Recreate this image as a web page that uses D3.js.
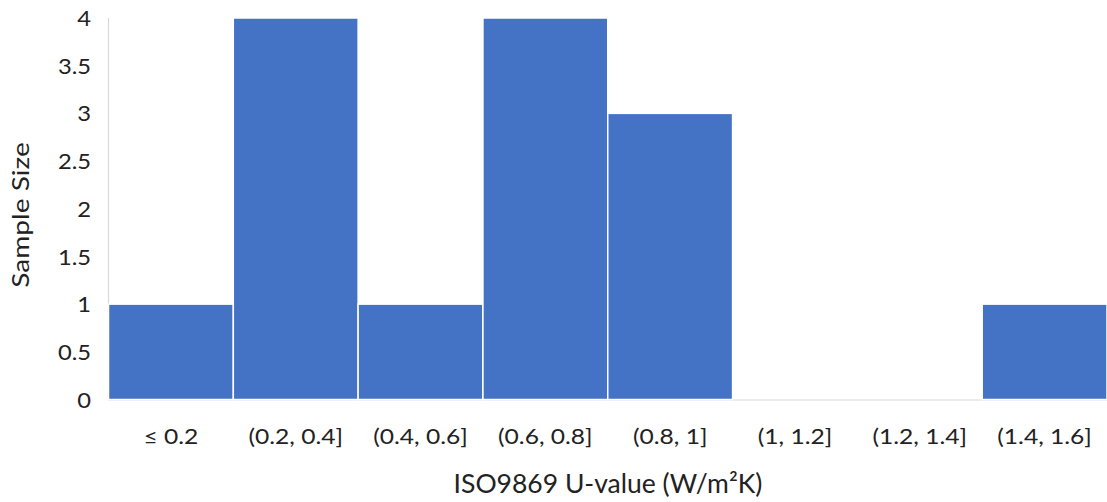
<!DOCTYPE html>
<html>
<head>
<meta charset="utf-8">
<script src="https://cdn.jsdelivr.net/npm/d3@7"></script>
<style>
  html, body { margin: 0; padding: 0; background: #fff; }
  svg { display: block; }
  text { font-family: Lato, "Open Sans", sans-serif; fill: #222; }
</style>
</head>
<body>
<svg id="chart" width="1107" height="502"></svg>
<script>
const categories = ["≤ 0.2", "(0.2, 0.4]", "(0.4, 0.6]", "(0.6, 0.8]", "(0.8, 1]", "(1, 1.2]", "(1.2, 1.4]", "(1.4, 1.6]"];
const sampleSize = [1, 4, 1, 4, 3, 0, 0, 1];
const yTicks = [0, 0.5, 1, 1.5, 2, 2.5, 3, 3.5, 4];
const xTitle = "ISO9869 U-value (W/m²K)";
const yTitle = "Sample Size";

const svg = d3.select("#chart");
const mLeft = 108.5, mRight = 1107, mTop = 18, mBottom = 399.5;

const x = d3.scaleBand().domain(categories).range([mLeft, mRight]).padding(0);
const y = d3.scaleLinear().domain([0, 4]).range([mBottom, mTop]);

// axis lines
svg.append("line").attr("x1", mLeft).attr("x2", mLeft).attr("y1", mTop).attr("y2", mBottom + 1)
  .attr("stroke", "#d9d9d9").attr("stroke-width", 1.2);
svg.append("line").attr("x1", mLeft).attr("x2", mRight).attr("y1", mBottom + 0.5).attr("y2", mBottom + 0.5)
  .attr("stroke", "#d9d9d9").attr("stroke-width", 1.2);

// bars
svg.append("g").selectAll("rect").data(categories).join("rect")
  .attr("x", d => x(d))
  .attr("y", (d, i) => y(sampleSize[i]))
  .attr("width", x.bandwidth())
  .attr("height", (d, i) => y(0) - y(sampleSize[i]))
  .attr("fill", "#4472C4")
  .attr("stroke", "#ffffff")
  .attr("stroke-width", 1.5);

// y axis labels
const yAxis = d3.axisLeft(y).tickValues(yTicks).tickSize(0).tickPadding(0).tickFormat(d3.format("~g"));
const gy = svg.append("g").attr("transform", "translate(91,0)").call(yAxis);
gy.select(".domain").remove();
gy.selectAll("text").attr("font-size", 21).attr("font-family", "Lato, sans-serif").attr("fill", "#222")
  .attr("transform", "scale(1.13,1)").attr("dy", "0.36em").attr("x", 0);

// x axis labels
const xAxis = d3.axisBottom(x).tickSize(0).tickPadding(0);
const gx = svg.append("g").attr("transform", "translate(0,444)").call(xAxis);
gx.select(".domain").remove();
gx.selectAll("text").attr("font-size", 20.5).attr("font-family", "Lato, sans-serif").attr("fill", "#222")
  .attr("dy", 0).attr("y", 0).attr("transform", "scale(1.2,1)");

// x title
svg.append("text").attr("x", 608).attr("y", 493).attr("text-anchor", "middle")
  .attr("font-size", 26.5).text(xTitle);

// y title
svg.append("text").attr("transform", "translate(29,215) rotate(-90) scale(1.22,1)").attr("text-anchor", "middle")
  .attr("font-size", 23).text(yTitle);
</script>
</body>
</html>
